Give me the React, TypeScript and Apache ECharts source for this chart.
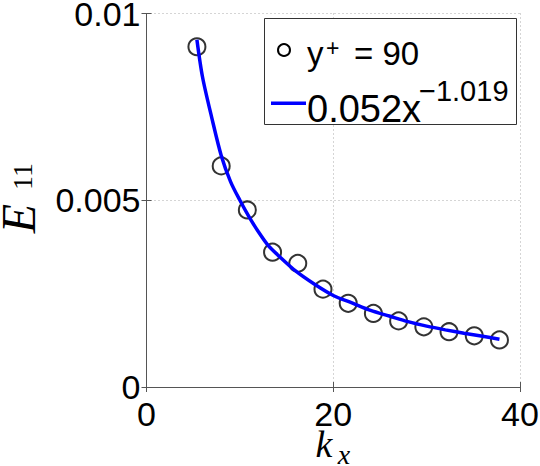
import React, { useEffect, useRef } from "react";
import * as echarts from "echarts";

// measured data (circles)
const kx = [5.4, 8.0, 10.8, 13.5, 16.2, 18.9, 21.6, 24.3, 27.0, 29.7, 32.4, 35.1, 37.8];
const e11 = [0.00911, 0.00592, 0.00474, 0.00361, 0.00331, 0.00262, 0.00224, 0.00197, 0.00177, 0.00161, 0.00148, 0.00137, 0.00126];

// fitted curve
const fitX = [5.4, 6, 7, 8, 9, 10, 11, 12, 13, 14, 16, 18, 20, 22, 24, 26, 28, 30, 32, 34, 36, 37.8];
const fitY = [0.0093, 0.0083, 0.0072, 0.0062, 0.0055, 0.005, 0.00455, 0.00415, 0.0038, 0.00355, 0.0031, 0.00275, 0.00245, 0.00225, 0.00205, 0.0019, 0.00175, 0.00163, 0.00153, 0.00144, 0.00136, 0.00128];

const xTickLabels = ["0", "20", "40"];
const yTickLabels = ["0", "0.005", "0.01"];

const SANS = '"Liberation Sans", Arial, sans-serif';
const SERIF = '"Liberation Serif", "Times New Roman", serif';

function txt(x: number, y: number, text: string, size: number, family: string, opts: any = {}) {
  const align = opts.align || "left";
  return {
    type: "text",
    x,
    y,
    rotation: opts.rotation || 0,
    z: 110,
    style: {
      text,
      fontSize: size,
      fontFamily: family,
      fontStyle: opts.italic ? "italic" : "normal",
      lineHeight: opts.lineHeight || size,
      fill: "#000",
      align,
      textAlign: align,
      verticalAlign: "middle",
      textVerticalAlign: "middle",
    },
  };
}

export default function App() {
  const ref = useRef<HTMLDivElement>(null);
  useEffect(() => {
    if (!ref.current) return;
    const chart = echarts.init(ref.current, null, { renderer: "svg" });
    const axisLineStyle = { color: "#555", width: 1 };
    const gridLine = { type: [1, 3], color: "#aaa", width: 1 };
    chart.setOption({
      animation: false,
      backgroundColor: "#fff",
      grid: {
        left: 146.5,
        top: 13.5,
        width: 373.5,
        height: 373.5,
        containLabel: false,
        outerBoundsMode: "none",
      },
      xAxis: [
        {
          type: "value",
          min: 0,
          max: 40,
          interval: 20,
          position: "bottom",
          axisLine: { show: true, lineStyle: axisLineStyle },
          axisTick: { show: true, inside: true, length: 5, lineStyle: axisLineStyle },
          axisLabel: {
            show: true,
            margin: 14,
            fontSize: 34,
            lineHeight: 26,
            fontFamily: SANS,
            color: "#000",
            formatter: (_v: number, i: number) => xTickLabels[i],
          },
          splitLine: { show: true, lineStyle: gridLine },
        },
        {
          type: "value",
          min: 0,
          max: 40,
          interval: 20,
          position: "top",
          axisLine: { show: true, lineStyle: axisLineStyle },
          axisTick: { show: true, inside: true, length: 5, lineStyle: axisLineStyle },
          axisLabel: { show: false },
          splitLine: { show: false },
        },
      ],
      yAxis: [
        {
          type: "value",
          min: 0,
          max: 0.01,
          interval: 0.005,
          position: "left",
          axisLine: { show: true, lineStyle: axisLineStyle },
          axisTick: { show: true, inside: true, length: 5, lineStyle: axisLineStyle },
          axisLabel: {
            show: true,
            margin: 6,
            fontSize: 34,
            lineHeight: 26,
            fontFamily: SANS,
            color: "#000",
            formatter: (_v: number, i: number) => yTickLabels[i],
          },
          splitLine: { show: true, lineStyle: gridLine },
        },
        {
          type: "value",
          min: 0,
          max: 0.01,
          interval: 0.005,
          position: "right",
          axisLine: { show: true, lineStyle: axisLineStyle },
          axisTick: { show: true, inside: true, length: 5, lineStyle: axisLineStyle },
          axisLabel: { show: false },
          splitLine: { show: false },
        },
      ],
      series: [
        {
          type: "scatter",
          name: "y+ = 90",
          xAxisIndex: 0,
          yAxisIndex: 0,
          data: kx.map((x, i) => [x, e11[i]]),
          symbol: "circle",
          symbolSize: 17,
          itemStyle: { color: "rgba(0,0,0,0)", borderColor: "#000", borderWidth: 2 },
          z: 3,
        },
        {
          type: "line",
          name: "fit",
          xAxisIndex: 0,
          yAxisIndex: 0,
          data: fitX.map((x, i) => [x, fitY[i]]),
          smooth: 0.3,
          showSymbol: false,
          lineStyle: { color: "#0000ff", width: 3.5 },
          z: 4,
        },
      ],
      graphic: [
        // legend box
        {
          type: "rect",
          z: 100,
          shape: { x: 264.5, y: 18.5, width: 252, height: 106 },
          style: { fill: "#fff", stroke: "#333", lineWidth: 1 },
        },
        {
          type: "circle",
          z: 110,
          shape: { cx: 284, cy: 50, r: 6 },
          style: { fill: "rgba(0,0,0,0)", stroke: "#000", lineWidth: 2 },
        },
        txt(307, 53.3, "y", 33, SANS, { lineHeight: 28 }),
        txt(326, 48, "+", 23, SANS, { lineHeight: 18 }),
        txt(354, 53.3, "= 90", 33, SANS, { lineHeight: 28 }),
        {
          type: "line",
          z: 110,
          shape: { x1: 271, y1: 103.3, x2: 306, y2: 103.3 },
          style: { stroke: "#0000ff", lineWidth: 3.5 },
        },
        txt(307, 109.2, "0.052x", 38, SANS, { lineHeight: 30 }),
        txt(419, 90.8, "\u22121.019", 29, SANS, { lineHeight: 22 }),
        // y axis name (rotated, reading upward)
        txt(18.4, 218.5, "E", 48, SERIF, { align: "center", italic: true, rotation: Math.PI / 2, lineHeight: 36 }),
        txt(22.3, 176.5, "11", 28, SERIF, { align: "center", rotation: Math.PI / 2, lineHeight: 20 }),
        // x axis name
        txt(324, 443.5, "k", 38, SERIF, { align: "center", italic: true, lineHeight: 30 }),
        txt(344, 454, "x", 28, SERIF, { align: "center", italic: true, lineHeight: 20 }),
      ],
    });
    return () => chart.dispose();
  }, []);
  return (
    <div
      ref={ref}
      style={{ position: "fixed", left: 0, top: 0, width: 540, height: 466, background: "#fff" }}
    />
  );
}
